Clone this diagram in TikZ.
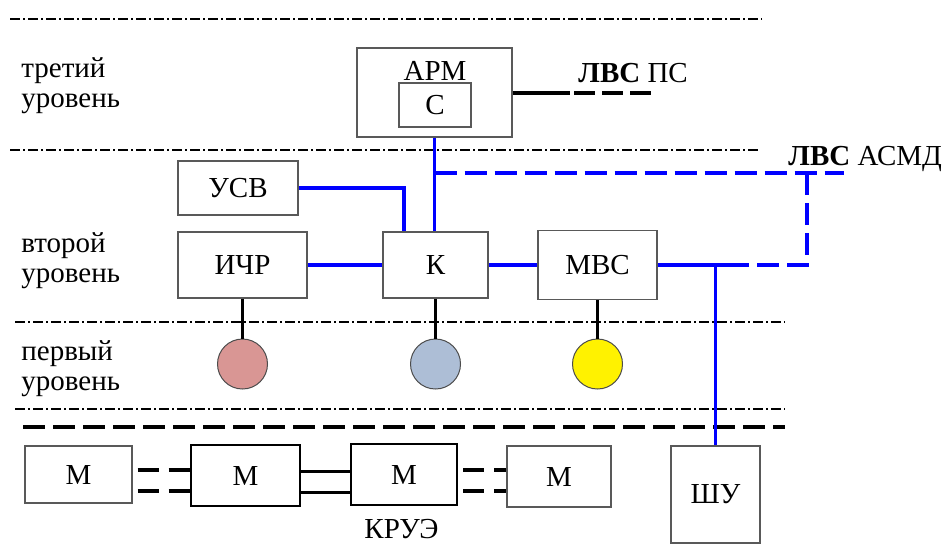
\documentclass[tikz,border=0pt]{standalone}
\usepackage{fontspec}
\setmainfont{Liberation Serif}
\usetikzlibrary{positioning}
\newcommand{\diagfont}{\fontsize{14.5}{15}\selectfont}

\begin{document}
\begin{tikzpicture}[x=0.5pt,y=-0.5pt,
  box/.style={draw=black!65,line width=0.6pt,inner sep=0pt,font=\diagfont},
  kbox/.style={draw=black,line width=1pt,inner sep=0pt,font=\diagfont},
  sensor/.style={circle,draw=black!70,line width=0.5pt,minimum size=25pt,inner sep=0pt},
  levelline/.style={line width=0.65pt,dash pattern=on 5pt off 1.6pt on 0.8pt off 1.6pt},
  busline/.style={blue,line width=1.8pt},
  busdash/.style={blue,line width=1.8pt,dash pattern=on 11pt off 4pt},
  wire/.style={line width=1.5pt},
  wiredash/.style={line width=1.8pt,dash pattern=on 10.5pt off 5pt},
  lbl/.style={font=\diagfont,inner sep=0pt,align=left}]
\useasboundingbox (0,0) rectangle (946,548);
% level borders
\draw[levelline] (10,19)--(762,19);
\draw[levelline] (10,150)--(760,150);
\draw[levelline] (15,322)--(785,322);
\draw[levelline] (15,409)--(785,409);
\draw[wiredash,dash pattern=on 11pt off 4pt] (23,427)--(785,427);
% level names
\node[lbl,anchor=base west] (lvl3) at (21,107) {третий\\уровень};
\node[lbl,anchor=base west] (lvl2) at (21,282) {второй\\уровень};
\node[lbl,anchor=base west] (lvl1) at (21,390) {первый\\уровень};
% third level
\node[box,minimum width=77.5pt,minimum height=44.5pt] (arm) at (434.5,92.5) {};
\node[lbl,anchor=base] (arm_t) at (435,80) {АРМ};
\node[box,minimum width=36pt,minimum height=22pt] (arm_c) at (435,105) {С};
\coordinate (lvs_ps) at (570,92.5);
\coordinate (lvs_ps_end) at (652,92.5);
\draw[line width=2pt] (arm.east)--(lvs_ps);
\draw[line width=2pt,dash pattern=on 10.5pt off 3.5pt,dash phase=12pt] (lvs_ps)--(lvs_ps_end);
\node[lbl,anchor=base west] (lvs_ps_t) at (578,82) {\textbf{ЛВС} ПС};
% second level
\node[box,minimum width=60pt,minimum height=27pt] (usv) at (238,188) {УСВ};
\node[box,minimum width=64.5pt,minimum height=33pt] (ichr) at (242.5,265) {ИЧР};
\node[box,minimum width=52.5pt,minimum height=33pt] (k) at (435.5,265) {К};
\node[box,minimum width=59.5pt,minimum height=34.5pt] (mvs) at (597.5,265) {МВС};
\draw[busline] (arm.south)--(arm.south |- k.north);
\draw[busline] (usv.east)-|([xshift=-15.75pt]k.north);
\draw[busline] (ichr.east)--(k.west);
\draw[busline] (k.east)--(mvs.east -| mvs.west);
% network of the substation
\coordinate (asmd_a) at (434.5,173);
\coordinate (asmd_b) at (844,173);
\coordinate (asmd_c) at (807,173);
\coordinate (asmd_d) at (807,265);
\coordinate (mvs_j) at (735,265);
\draw[busdash] (asmd_a)--(asmd_b);
\draw[busdash] (asmd_c)--(asmd_d)--(mvs_j);
\draw[busline] (mvs.east)--(mvs_j);
\node[lbl,anchor=base west] (lvs_asmd_t) at (788,165) {\textbf{ЛВС} АСМД};
% first level
\node[sensor,fill={rgb,255:red,217;green,150;blue,148}] (s_ichr) at (242.5,364) {};
\node[sensor,fill={rgb,255:red,173;green,190;blue,214}] (s_k) at (435.5,364) {};
\node[sensor,fill=yellow] (s_mvs) at (597.5,364) {};
\draw[wire] (ichr.south)--(s_ichr.north);
\draw[wire] (k.south)--(s_k.north);
\draw[wire] (mvs.south)--(s_mvs.north);
% switchgear
\node[box,minimum width=53.5pt,minimum height=28.5pt] (m1) at (78.5,474.5) {М};
\node[kbox,minimum width=54.5pt,minimum height=30.5pt] (m2) at (245.5,475.5) {М};
\node[kbox,minimum width=53pt,minimum height=30.5pt] (m3) at (404,474.5) {М};
\node[box,minimum width=52pt,minimum height=30.5pt] (m4) at (559,476.5) {М};
\node[lbl] (kruee) at (401.5,529.5) {КРУЭ};
\node[box,minimum width=44.5pt,minimum height=48.5pt] (shu) at (715.5,494.5) {ШУ};
\draw[busline] (shu.north |- mvs.east)--(shu.north);
\draw[wiredash,shorten <=2.5pt] ([yshift=2.25pt]m1.east)--([yshift=2.25pt]m1.east -| m2.west);
\draw[wiredash,shorten <=2.5pt] ([yshift=-8.25pt]m1.east)--([yshift=-8.25pt]m1.east -| m2.west);
\draw[wire] ([yshift=2.25pt]m2.east)--([yshift=2.25pt]m2.east -| m3.west);
\draw[wire] ([yshift=-8.25pt]m2.east)--([yshift=-8.25pt]m2.east -| m3.west);
\draw[wiredash,shorten <=2.5pt] ([yshift=2.25pt]m3.east)--([yshift=2.25pt]m3.east -| m4.west);
\draw[wiredash,shorten <=2.5pt] ([yshift=-8.25pt]m3.east)--([yshift=-8.25pt]m3.east -| m4.west);
\end{tikzpicture}
\end{document}
